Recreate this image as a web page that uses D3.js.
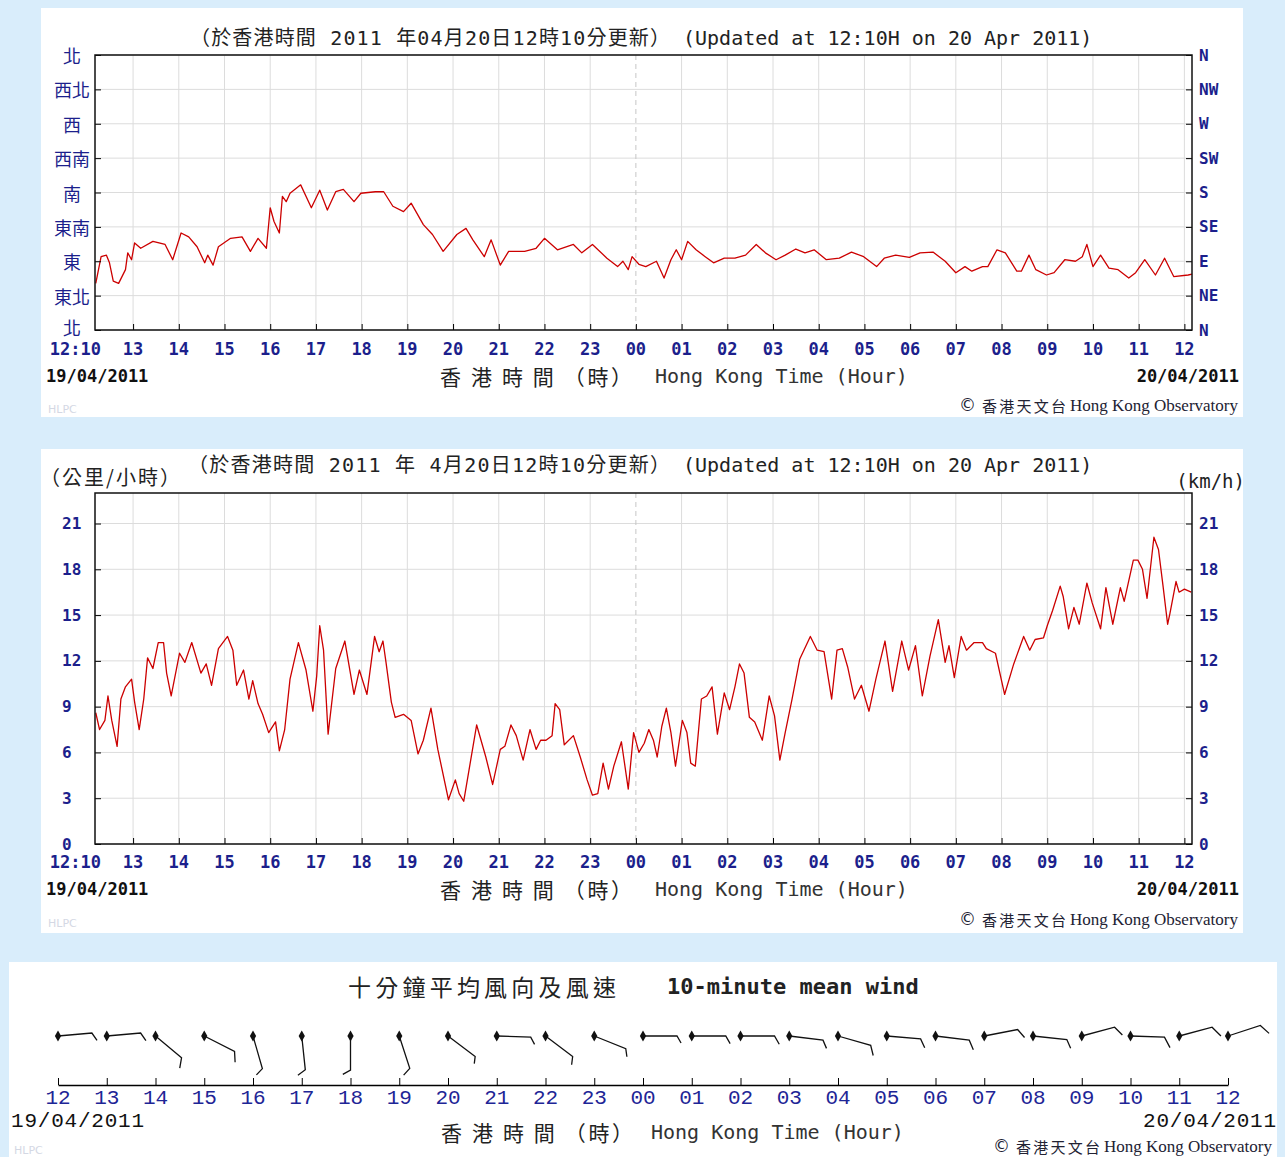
<!DOCTYPE html>
<html>
<head>
<meta charset="utf-8">
<script src="https://cdn.jsdelivr.net/npm/d3@7"></script>
<style>
body { margin: 0; background: #d9edfb; }
svg { display: block; }
</style>
</head>
<body>
<svg id="chart" width="1285" height="1157"></svg>
<script>
// minutes after 12:00 on 19/04/2011, wind direction in degrees (0 = N)
let dirSeries = [[11,61],[18,96],[25,98],[29,88],[34,64],[41,61],[50,79],[53,101],[58,92],[62,114],[70,107],[86,116],[102,112],[112,92],[123,127],[133,122],[144,109],[154,88],[158,98],[165,85],[172,109],[188,120],[203,122],[214,103],[224,120],[235,107],[240,160],[245,142],[252,127],[256,175],[261,168],[266,179],[280,190],[294,160],[305,183],[315,157],[326,181],[336,184],[350,168],[359,179],[378,181],[389,181],[401,162],[415,155],[425,166],[441,138],[453,125],[467,103],[485,125],[497,133],[506,118],[521,96],[530,118],[542,85],[553,103],[574,103],[589,107],[600,120],[617,105],[638,112],[649,101],[663,112],[682,94],[696,83],[703,90],[710,79],[715,96],[724,86],[733,83],[747,90],[757,68],[766,92],[773,105],[780,92],[788,116],[799,105],[811,96],[822,88],[836,94],[850,94],[864,98],[878,112],[890,101],[904,92],[916,98],[930,106],[942,101],[954,105],[970,92],[987,94],[1003,102],[1019,96],[1036,83],[1046,94],[1061,98],[1079,95],[1093,101],[1110,102],[1126,90],[1140,75],[1152,83],[1161,77],[1175,83],[1182,83],[1194,105],[1205,101],[1220,77],[1226,77],[1236,98],[1245,79],[1259,72],[1269,75],[1283,92],[1297,90],[1306,96],[1312,112],[1320,83],[1330,98],[1341,81],[1353,79],[1367,68],[1376,75],[1388,92],[1402,72],[1414,94],[1426,70],[1445,72],[1450,73]];

// minutes after 12:00 on 19/04/2011, wind speed in km/h
let speedSeries = [[11,8.6],[16,7.5],[23,8.1],[27,9.7],[32,8.1],[39,6.4],[44,9.5],[50,10.3],[58,10.8],[62,9.3],[68,7.5],[74,9.5],[79,12.2],[86,11.5],[93,13.2],[100,13.2],[104,11.2],[110,9.7],[121,12.5],[128,11.9],[137,13.2],[149,11.2],[156,11.8],[163,10.4],[172,12.8],[184,13.6],[191,12.7],[196,10.4],[205,11.4],[212,9.5],[217,10.7],[224,9.2],[230,8.5],[238,7.3],[247,8.0],[252,6.1],[259,7.5],[266,10.8],[277,13.2],[287,11.4],[296,8.7],[301,11.0],[305,14.3],[310,12.7],[316,7.2],[326,11.5],[338,13.3],[350,9.8],[357,11.4],[367,9.8],[377,13.6],[383,12.6],[388,13.3],[392,11.9],[399,9.3],[404,8.3],[415,8.5],[425,8.1],[434,5.9],[441,6.8],[451,8.9],[460,6.2],[474,2.9],[483,4.2],[488,3.3],[494,2.8],[511,7.8],[523,5.7],[532,3.9],[542,6.2],[548,6.4],[556,7.8],[563,7.1],[572,5.5],[581,7.5],[589,6.2],[595,6.8],[602,6.8],[610,7.1],[614,9.2],[620,8.8],[626,6.5],[638,7.1],[647,5.7],[656,4.2],[663,3.2],[670,3.3],[677,5.3],[684,3.6],[691,5.1],[701,6.7],[710,3.6],[717,7.3],[724,6.0],[731,6.6],[737,7.5],[743,6.8],[748,5.7],[754,7.7],[760,8.9],[766,7.3],[772,5.1],[781,8.1],[787,7.3],[792,5.3],[798,5.1],[806,9.5],[813,9.7],[820,10.3],[827,7.2],[836,9.9],[843,8.8],[850,10.3],[856,11.8],[862,11.2],[869,8.3],[876,8.0],[886,6.8],[895,9.7],[902,8.4],[909,5.5],[916,7.3],[925,9.5],[935,12.1],[949,13.6],[958,12.7],[967,12.6],[977,9.5],[984,12.7],[991,12.8],[998,11.6],[1007,9.5],[1016,10.4],[1026,8.7],[1035,10.8],[1047,13.3],[1057,10.0],[1069,13.3],[1078,11.4],[1087,13.0],[1096,9.7],[1106,12.3],[1117,14.7],[1126,11.9],[1131,13.0],[1138,10.9],[1147,13.6],[1154,12.7],[1164,13.2],[1175,13.2],[1180,12.8],[1192,12.5],[1204,9.8],[1216,11.8],[1229,13.6],[1237,12.7],[1244,13.4],[1255,13.5],[1260,14.3],[1267,15.3],[1277,16.9],[1281,16.2],[1288,14.1],[1295,15.5],[1302,14.4],[1312,17.1],[1319,15.8],[1330,14.1],[1337,16.8],[1346,14.4],[1356,16.8],[1361,15.9],[1373,18.6],[1379,18.6],[1385,18.0],[1391,16.1],[1400,20.1],[1406,19.3],[1412,16.9],[1418,14.4],[1421,15.1],[1429,17.2],[1433,16.5],[1440,16.7],[1449,16.5]];

let hourLabels = ["12:10","13","14","15","16","17","18","19","20","21","22","23","00","01","02","03","04","05","06","07","08","09","10","11","12"];
let dirTicks = [0, 45, 90, 135, 180, 225, 270, 315, 360];
let dirLabelsZh = ["北","東北","東","東南","南","西南","西","西北","北"];
let dirLabelsEn = ["N","NE","E","SE","S","SW","W","NW","N"];
let speedTicks = [0, 3, 6, 9, 12, 15, 18, 21];

// hourly 10-minute mean wind (barbs)
let barbLabels = ["12","13","14","15","16","17","18","19","20","21","22","23","00","01","02","03","04","05","06","07","08","09","10","11","12"];
let barbDirs = [85,85,130,117,164,174,180,162,127,92,127,112,90,90,90,97,106,95,97,79,96,75,92,75,72];
let barbSpeeds = [8.5,9.3,12.5,13.6,7.3,9.0,8.2,9.0,3.5,6.2,6.8,5.9,6.0,8.0,10.0,8.4,12.6,10.5,12.7,13.0,9.8,14.3,16.5,18.6,16.5];

let mono = "'DejaVu Sans Mono', 'Noto Sans CJK TC', monospace";
let cjk = "'Noto Sans CJK TC', sans-serif";
let navy = "#1c1f8c";

let svg = d3.select("#chart");

// white panels
let panels = [[41, 8, 1202, 409], [41, 449, 1202, 484], [9, 962, 1268, 200]];
svg.selectAll("rect.panel").data(panels).enter().append("rect")
    .attr("class", "panel")
    .attr("x", d => d[0]).attr("y", d => d[1])
    .attr("width", d => d[2]).attr("height", d => d[3])
    .attr("fill", "#ffffff");

let plotLeft = 95, plotRight = 1192;
let x = d3.scaleLinear().domain([10, 1450]).range([plotLeft, plotRight]);
let hourTicks = d3.range(60, 1441, 60);

function txt(g, s, px, py, opts) {
    let t = g.append("text")
        .attr("x", px).attr("y", py)
        .attr("dominant-baseline", "central")
        .attr("font-family", opts.family || mono)
        .attr("font-size", opts.size || 16)
        .attr("font-weight", opts.weight || "normal")
        .attr("fill", opts.color || "#222")
        .attr("text-anchor", opts.anchor || "start")
        .text(s);
    if (opts.len) t.attr("textLength", opts.len).attr("lengthAdjust", "spacing");
    return t;
}

// © 香港天文台 Hong Kong Observatory, right edge at px
function credit(g, px, py) {
    txt(g, "Hong Kong Observatory", px, py, {family: "'Liberation Serif', serif", size: 17, color: "#223", anchor: "end"});
    txt(g, "香港天文台", px - 172, py, {family: cjk, size: 15, color: "#223", anchor: "end", len: 84});
    txt(g, "©", px - 262, py, {family: "'DejaVu Sans'", size: 17, color: "#223", anchor: "end"});
}

function timeChart(o) {
    let g = svg.append("g");
    let y = d3.scaleLinear().domain(o.yDomain).range([o.bottom, o.top]);

    // grid
    g.append("g").selectAll("line").data(o.yTicks).enter().append("line")
        .attr("x1", plotLeft).attr("x2", plotRight)
        .attr("y1", d => y(d)).attr("y2", d => y(d))
        .attr("stroke", "#dcdcdc");
    g.append("g").selectAll("line").data(hourTicks).enter().append("line")
        .attr("x1", d => x(d)).attr("x2", d => x(d))
        .attr("y1", o.top).attr("y2", o.bottom)
        .attr("stroke", d => d === 720 ? "#c6c6c6" : "#dcdcdc")
        .attr("stroke-dasharray", d => d === 720 ? "5,4" : null);

    // data line
    let line = d3.line().x(d => x(d[0])).y(d => y(d[1]));
    g.append("path").datum(o.data)
        .attr("d", line)
        .attr("fill", "none")
        .attr("stroke", "#cc0000")
        .attr("stroke-width", 1.3)
        .attr("stroke-linejoin", "round");

    // inward ticks
    g.append("g").attr("transform", "translate(" + plotLeft + ",0)")
        .call(d3.axisLeft(y).tickValues(o.yTicks).tickSize(-6).tickFormat(""))
        .call(a => a.select(".domain").remove());
    g.append("g").attr("transform", "translate(" + plotRight + ",0)")
        .call(d3.axisRight(y).tickValues(o.yTicks).tickSize(-6).tickFormat(""))
        .call(a => a.select(".domain").remove());
    g.append("g").attr("transform", "translate(0," + o.bottom + ")")
        .call(d3.axisBottom(x).tickValues(hourTicks).tickSize(-6).tickFormat(""))
        .call(a => a.select(".domain").remove());

    // frame
    g.append("rect")
        .attr("x", plotLeft).attr("y", o.top)
        .attr("width", plotRight - plotLeft).attr("height", o.bottom - o.top)
        .attr("fill", "none").attr("stroke", "#111").attr("stroke-width", 1.5);

    // y labels
    o.yTicks.forEach((v, i) => {
        o.leftLabel(g, o.leftText[i], y(v) - (i === 0 ? o.bottomLift : 0));
        txt(g, o.rightText[i], 1199, y(v), {size: 16, weight: "bold", color: navy});
    });

    // x labels
    hourLabels.forEach((s, i) => {
        if (i === 0) txt(g, s, x(10) + 6, o.labelY, {size: 17, weight: "bold", color: navy, anchor: "end"});
        else txt(g, s, x(i * 60), o.labelY, {size: 17, weight: "bold", color: navy, anchor: "middle"});
    });

    // dates, caption, credits
    txt(g, "19/04/2011", 46, o.dateY, {size: 17, weight: "bold", color: "#111"});
    txt(g, "20/04/2011", 1239, o.dateY, {size: 17, weight: "bold", color: "#111", anchor: "end"});
    txt(g, "香 港 時 間 （時）", 440, o.dateY, {family: cjk, size: 21, color: "#222", len: 192});
    txt(g, "Hong Kong Time (Hour)", 655, o.dateY, {size: 20, color: "#333"});
    credit(g, 1238, o.creditY);
    txt(g, "HLPC", 48, o.creditY + 4, {family: "'DejaVu Sans'", size: 11, color: "#d4d8e4"});
    return g;
}

// wind direction chart
let g1 = timeChart({
    top: 55, bottom: 330, yDomain: [0, 360], yTicks: dirTicks, data: dirSeries,
    leftText: dirLabelsZh, rightText: dirLabelsEn, bottomLift: 3,
    leftLabel: (g, s, py) => txt(g, s, 72, py, {family: cjk, size: 18, color: navy, anchor: "middle"}),
    labelY: 349, dateY: 376, creditY: 405
});
txt(g1, "（於香港時間 2011 年04月20日12時10分更新）", 190, 38, {size: 20, color: "#222", len: 480});
txt(g1, "(Updated at 12:10H on 20 Apr 2011)", 683, 38, {size: 20, color: "#222"});

// wind speed chart
let g2 = timeChart({
    top: 493, bottom: 844, yDomain: [0, 23], yTicks: speedTicks, data: speedSeries,
    leftText: speedTicks.map(String), rightText: speedTicks.map(String), bottomLift: 0,
    leftLabel: (g, s, py) => txt(g, s, 62, py, {size: 16, weight: "bold", color: navy}),
    labelY: 862, dateY: 889, creditY: 919
});
txt(g2, "（於香港時間 2011 年 4月20日12時10分更新）", 188, 465, {size: 20, color: "#222", len: 482});
txt(g2, "(Updated at 12:10H on 20 Apr 2011)", 683, 465, {size: 20, color: "#222"});
txt(g2, "（公里/小時）", 40, 476, {family: cjk, size: 20, color: "#222", len: 140});
txt(g2, "(km/h)", 1245, 481, {size: 19, color: "#222", anchor: "end"});

// 10-minute mean wind barbs
let g3 = svg.append("g");
let bx = d3.scaleLinear().domain([0, 24]).range([58, 1228]);
let baseY = 1036, axisY = 1085, shaft = 34;
let featherLen = d3.scaleLinear().domain([0, 20]).range([6, 13]).clamp(true);

txt(g3, "十分鐘平均風向及風速", 348, 986, {family: cjk, size: 23, color: "#222", len: 268});
txt(g3, "10-minute mean wind", 667, 986, {size: 22, weight: "bold", color: "#222"});

g3.append("g").attr("transform", "translate(0," + axisY + ")")
    .call(d3.axisBottom(bx).tickValues(d3.range(25)).tickSize(-7).tickFormat("").tickSizeOuter(0))
    .call(a => a.select(".domain").attr("stroke-width", 1.5));

barbDirs.forEach((deg, i) => {
    let r = deg * Math.PI / 180;
    let x0 = bx(i);
    let x1 = x0 + shaft * Math.sin(r), y1 = baseY - shaft * Math.cos(r);
    let fr = r + Math.PI / 3;
    let fl = featherLen(barbSpeeds[i]);
    let x2 = x1 + fl * Math.sin(fr), y2 = y1 - fl * Math.cos(fr);
    g3.append("path")
        .attr("d", d3.line()([[x0, baseY], [x1, y1], [x2, y2]]))
        .attr("fill", "none").attr("stroke", "#111").attr("stroke-width", 1.3);
    g3.append("path")
        .attr("d", d3.symbol(d3.symbolDiamond, 34)())
        .attr("transform", "translate(" + x0 + "," + baseY + ")")
        .attr("fill", "#111");
});

barbLabels.forEach((s, i) => {
    txt(g3, s, bx(i), 1098, {family: "'Liberation Mono', monospace", size: 21, color: "#1e2596", anchor: "middle"});
});
txt(g3, "19/04/2011", 11, 1121, {family: "'Liberation Mono', monospace", size: 21, color: "#111", len: 133});
txt(g3, "20/04/2011", 1276, 1121, {family: "'Liberation Mono', monospace", size: 21, color: "#111", anchor: "end", len: 133});
txt(g3, "香 港 時 間 （時）", 441, 1132, {family: cjk, size: 21, color: "#222", len: 192});
txt(g3, "Hong Kong Time (Hour)", 651, 1132, {size: 20, color: "#333"});
credit(g3, 1272, 1146);
txt(g3, "HLPC", 14, 1150, {family: "'DejaVu Sans'", size: 11, color: "#d4d8e4"});
</script>
</body>
</html>
